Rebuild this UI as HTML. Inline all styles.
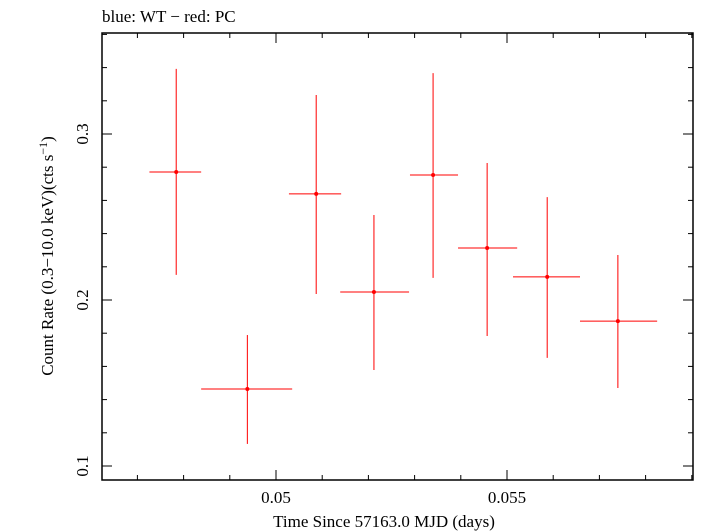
<!DOCTYPE html>
<html><head><meta charset="utf-8"><style>
body{margin:0;background:#fff;}
svg{display:block;font-family:"Liberation Serif",serif;}
</style></head><body>
<svg id="chart" width="709" height="532" viewBox="0 0 709 532">
<text x="102" y="22" font-size="17">blue: WT − red: PC</text>
<rect x="102" y="33" width="591" height="447" fill="none" stroke="#000" stroke-width="1.5"/>
<g id="axes"></g>
<g id="marks"></g>
<text x="384" y="527" font-size="17" text-anchor="middle">Time Since 57163.0 MJD (days)</text>
<text transform="translate(53,256) rotate(-90)" font-size="17" text-anchor="middle">Count Rate (0.3−10.0 keV)(cts s<tspan dy="-6" font-size="12">−1</tspan><tspan dy="6">)</tspan></text>
</svg>
<script>
const times=[0.04784,0.04938,0.05087,0.05212,0.05340,0.05457,0.05587,0.05740];
const timeLo=[0.04726,0.04838,0.05028,0.05139,0.05290,0.05394,0.05513,0.05658];
const timeHi=[0.04838,0.05035,0.05141,0.05288,0.05394,0.05522,0.05658,0.05825];
const rates=[0.2771,0.1464,0.2639,0.2048,0.2753,0.2313,0.2139,0.1873];
const rateHi=[0.3392,0.1789,0.3235,0.2512,0.3367,0.2825,0.2620,0.2271];
const rateLo=[0.2151,0.1133,0.2036,0.1578,0.2133,0.1783,0.1651,0.1470];
const xTicks=[0.05,0.055];
const xTickLabels=["0.05","0.055"];
const yTicks=[0.1,0.2,0.3];
const yTickLabels=["0.1","0.2","0.3"];
const X=v=>276+(v-0.05)/0.005*231;
const Y=v=>300-(v-0.2)*1660;
const NS="http://www.w3.org/2000/svg";
const axes=document.getElementById('axes'),marks=document.getElementById('marks');
function ln(p,x1,y1,x2,y2,c,n){const l=document.createElementNS(NS,'line');
l.setAttribute('x1',x1);l.setAttribute('y1',y1);l.setAttribute('x2',x2);l.setAttribute('y2',y2);
l.setAttribute('stroke',c);l.setAttribute('stroke-width',1);


p.appendChild(l);return l;}
function tx(x,y,s,anchor,rot,n){const t=document.createElementNS(NS,'text');
t.setAttribute('x',x);t.setAttribute('y',y);t.setAttribute('font-size',17);t.setAttribute('text-anchor',anchor);
if(rot)t.setAttribute('transform',`rotate(-90 ${x} ${y})`);t.textContent=s;


axes.appendChild(t);}
for(let k=46;k<=59;k++){const v=k/1000;const x=X(v);if(x<102||x>693)continue;
const L=(k%5===0)?10:5;
ln(axes,x,480,x,480-L,'#000','x-tick');ln(axes,x,33,x,33+L,'#000','x-tick-top');}
xTicks.forEach((v,i)=>tx(X(v),503,xTickLabels[i],'middle',false,'x-tick-label'));
for(let k=8;k<=36;k+=2){const v=k/100;const y=Y(v);if(y<33||y>480)continue;const L=(k%10===0)?10:5;
ln(axes,102,y,102+L,y,'#000','y-tick');ln(axes,693,y,693-L,y,'#000','y-tick-right');}
yTicks.forEach((v,i)=>tx(88,Y(v),yTickLabels[i],'middle',true,'y-tick-label'));
times.forEach((t,i)=>{
ln(marks,X(timeLo[i]),Y(rates[i]),X(timeHi[i]),Y(rates[i]),'#f00','x-error-bar');
ln(marks,X(t),Y(rateHi[i]),X(t),Y(rateLo[i]),'#f00','y-error-bar');
const c=document.createElementNS(NS,'circle');c.setAttribute('cx',X(t));c.setAttribute('cy',Y(rates[i]));c.setAttribute('r',2);c.setAttribute('fill','#f00');


marks.appendChild(c);});
</script>
</body></html>
